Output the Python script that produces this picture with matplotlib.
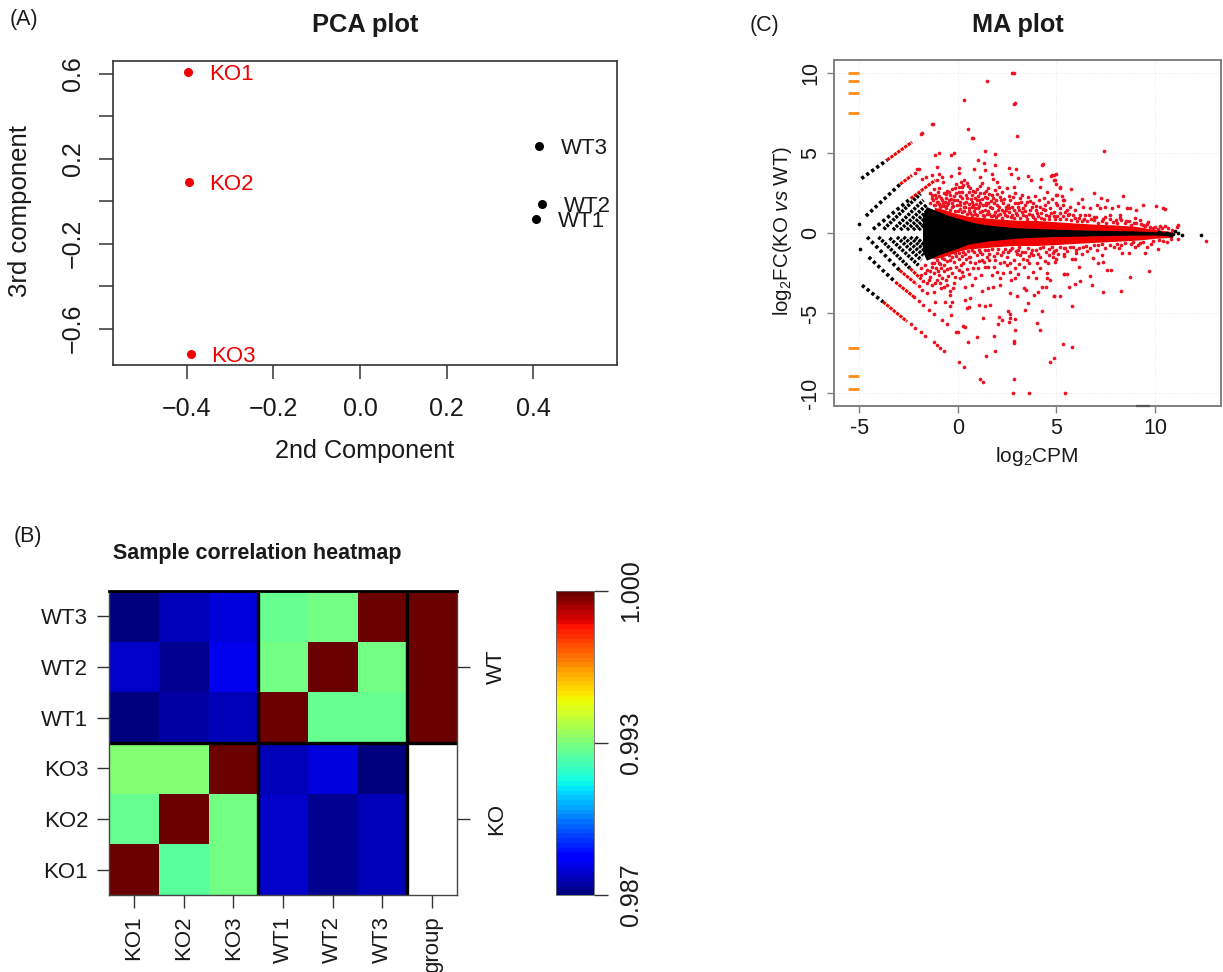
import numpy as np
import matplotlib
matplotlib.use('Agg')
import matplotlib.pyplot as plt
from matplotlib.colorbar import ColorbarBase
from matplotlib.colors import Normalize, ListedColormap

plt.rcParams['font.family'] = ['Liberation Sans', 'DejaVu Sans']
plt.rcParams['mathtext.fontset'] = 'custom'
plt.rcParams['mathtext.rm'] = 'Liberation Sans'
plt.rcParams['mathtext.it'] = 'Liberation Sans:italic'

W, H = 1223, 972
TEXT = '#1a1a1a'

# PCA plot
ko_names = ['KO1', 'KO2', 'KO3']
ko_x = [-0.396, -0.395, -0.391]
ko_y = [0.609, 0.093, -0.72]
wt_names = ['WT1', 'WT2', 'WT3']
wt_x = [0.406, 0.42, 0.414]
wt_y = [-0.082, -0.011, 0.258]
pca_xticks = [-0.4, -0.2, 0.0, 0.2, 0.4]
pca_yticks = [-0.6, -0.4, -0.2, 0.0, 0.2, 0.4, 0.6]
pca_ylabels = ['\u22120.6', '', '\u22120.2', '', '0.2', '', '0.6']

# correlation heatmap, top row first
hm_rows = ['WT3', 'WT2', 'WT1', 'KO3', 'KO2', 'KO1']
hm_cols = ['KO1', 'KO2', 'KO3', 'WT1', 'WT2', 'WT3', 'group']
hm_wt3 = [0.98713, 0.98778, 0.98804, 0.99311, 0.99337, 1.0, 1.0]
hm_wt2 = [0.98791, 0.98739, 0.9883, 0.99337, 1.0, 0.99337, 1.0]
hm_wt1 = [0.98713, 0.98752, 0.98778, 1.0, 0.99311, 0.99311, 1.0]
hm_ko3 = [0.9935, 0.9935, 1.0, 0.98778, 0.98817, 0.98713, np.nan]
hm_ko2 = [0.99311, 1.0, 0.99337, 0.98791, 0.98739, 0.98778, np.nan]
hm_ko1 = [1.0, 0.99298, 0.99337, 0.98791, 0.98739, 0.98765, np.nan]

# MA plot: low count arms, (x0, y0, x1, y1) black part then where the red part ends
arms_black = [
    (-4.9, 3.4, -3.6, 4.55), (-4.67, 1.06, -2.93, 3.05), (-4.31, 0.23, -2.4, 2.15),
    (-3.77, 0.23, -1.9, 2.45), (-3.3, 0.19, -1.75, 2.05), (-2.93, 0.19, -1.6, 1.75),
    (-2.59, 0.19, -1.55, 1.4), (-2.28, 0.19, -1.5, 1.1), (-2.0, 0.19, -1.5, 0.8),
    (-4.87, -3.26, -3.8, -4.3), (-4.53, -1.5, -3.18, -3.06), (-4.61, -0.25, -2.96, -2.33),
    (-4.03, -0.25, -2.42, -2.22), (-3.47, -0.31, -2.0, -2.02), (-3.09, -0.25, -1.85, -1.7),
    (-2.76, -0.25, -1.75, -1.4), (-2.42, -0.25, -1.7, -1.1), (-2.15, -0.25, -1.6, -0.85),
]
arms_red = [
    (-3.6, 4.55, -2.33, 5.68), (-2.93, 3.05, -2.33, 3.6), (-2.4, 2.15, -1.15, 3.3),
    (-3.8, -4.3, -2.58, -5.53), (-3.18, -3.06, -2.25, -3.97), (-2.96, -2.33, -2.1, -3.2),
    (-2.42, -2.22, -1.85, -2.9),
]
black_single_x = [-5.04, -4.95, 11.02, 11.19, 11.36, 12.34, 10.9, 10.6, 10.2, 10.75]
black_single_y = [0.56, -1.02, 0.14, -0.02, -0.12, -0.1, -0.05, 0.03, 0.05, -0.1]

# dashes for values off the left side
orange_y = [10, 9.48, 8.71, 7.5, -7.17, -8.94, -9.75]

# dense centre of the cloud, edges read at core_x / red_x
core_x = [-1.8, -1.6, -1.3, -1, -0.5, 0, 0.5, 1, 1.5, 2, 2.5, 3, 4, 5, 6, 7, 8, 9, 9.5, 10, 10.5, 10.9]
core_up = [1.1, 1.65, 1.5, 1.35, 1.1, 0.92, 0.74, 0.6, 0.5, 0.43, 0.38, 0.33, 0.28, 0.24, 0.2, 0.17, 0.15, 0.13, 0.1, 0.08, 0.07, 0.04]
core_low = [-1.15, -1.7, -1.55, -1.37, -1.15, -0.95, -0.7, -0.6, -0.5, -0.44, -0.38, -0.32, -0.26, -0.22, -0.2, -0.17, -0.15, -0.13, -0.13, -0.13, -0.15, -0.25]
red_x = [-1.2, -0.8, -0.3, 0, 0.5, 1, 1.5, 2, 2.5, 3, 4, 5, 6, 7, 8, 9, 9.5, 10, 10.5, 10.9]
red_up = [1.6, 1.5, 1.3, 1.2, 1.05, 1.0, 0.93, 0.88, 0.84, 0.8, 0.78, 0.7, 0.62, 0.55, 0.5, 0.42, 0.32, 0.22, 0.15, 0.08]
red_low = [-1.6, -1.5, -1.3, -1.15, -1, -0.95, -0.9, -0.85, -0.8, -0.78, -0.78, -0.72, -0.65, -0.58, -0.52, -0.45, -0.4, -0.33, -0.3, -0.27]

# single red points, upper half
red_top = [
    (2.74, 10), (2.85, 10), (1.45, 9.48), (0.29, 8.32), (2.82, 8.05), (2.9, 8.1), (0.51, 6.5),
    (0.71, 5.9), (0.75, 5.95), (2.99, 6.05), (7.42, 5.1), (-1.85, 6.2), (-1.8, 6.25), (-1.3, 6.8), (-1.25, 6.8),
    (-2.2, 3.75), (-2.08, 3.97), (-2.0, 4.0), (-1.82, 3.4), (-1.6, 3.5), (-1.3, 3.6), (-1.05, 3.3),
    (-1.15, 4.87), (-0.98, 5.0), (-0.35, 4.87), (-0.22, 4.97), (1.35, 5.1), (1.89, 4.93), (1.0, 4.55),
    (1.33, 4.35), (1.9, 4.25), (-1.07, 4.1), (0.07, 4.03), (0.83, 3.99), (1.38, 3.93), (2.57, 4.07),
    (2.97, 3.97), (4.3, 4.3), (4.25, 4.25), (-0.95, 3.66), (-0.35, 3.56), (0.03, 3.72), (1.1, 3.5), (1.72, 3.66),
    (2.69, 3.68), (3.07, 3.45), (3.53, 3.57), (3.72, 3.31), (4.2, 3.37), (4.72, 3.55), (4.89, 3.62),
    (4.94, 3.31), (5.17, 2.85), (0.3, 3.31), (0.46, 3.14), (0.2, 2.89), (-0.14, 2.79), (0.03, 2.58),
    (-0.81, 3.47), (-0.77, 3.16), (-0.98, 2.79), (-1.23, 2.73), (-1.4, 2.47), (-1.15, 2.37), (-0.73, 2.47),
    (-0.39, 2.37), (-0.22, 2.06), (-0.47, 2.06), (-0.81, 2.06), (-1.07, 1.95), (-1.32, 2.16), (-0.56, 1.75),
    (-0.9, 1.64), (-0.05, 1.75), (0.29, 1.85), (0.46, 2.16), (0.71, 2.37), (0.88, 2.58), (1.13, 2.93),
    (1.22, 3.1), (1.8, 3.4), (1.98, 3.2), (2.06, 2.89), (1.89, 2.68), (1.55, 2.79), (1.3, 2.47), (0.96, 2.06),
    (0.71, 1.95), (0.54, 1.54), (0.88, 1.54), (1.13, 1.85), (1.47, 2.16), (1.72, 2.37), (2.14, 2.27),
    (2.48, 2.79), (2.82, 2.89), (2.9, 2.47), (2.65, 2.06), (2.31, 1.85), (1.98, 1.75), (1.64, 1.64),
    (1.38, 1.43), (1.89, 1.33), (2.23, 1.43), (2.57, 1.54), (2.9, 1.85), (3.24, 2.37), (3.58, 2.27),
    (3.92, 2.31), (4.17, 2.85), (4.5, 2.58), (5.0, 2.37), (5.34, 2.06), (5.34, 1.75), (5.0, 1.85),
    (4.58, 1.96), (4.17, 1.64), (3.83, 1.85), (3.41, 1.75), (3.07, 1.64), (2.82, 1.43), (3.24, 1.33),
    (3.66, 1.43), (4.0, 1.22), (4.43, 1.43), (4.85, 1.33), (5.19, 1.22), (5.53, 1.43),
    (-0.95, 1.8), (-0.7, 1.7), (-0.3, 1.6), (0.1, 1.5), (0.3, 1.35), (0.6, 1.25), (0.85, 1.2), (1.1, 1.3),
    (1.25, 1.15), (1.6, 1.2), (1.75, 1.05), (2.05, 1.1), (2.4, 1.15), (2.7, 1.0), (3.0, 1.1), (3.45, 1.05),
    (3.8, 1.0), (4.2, 0.95), (4.6, 1.05), (4.95, 0.9), (-0.6, 2.45), (0.2, 2.2), (0.6, 2.8), (1.0, 2.3),
    (2.2, 2.05), (2.55, 1.75), (3.2, 1.95), (3.75, 1.6), (4.4, 1.75),
    (4.77, 3.62), (5.0, 3.68), (4.85, 3.3), (4.99, 3.06), (5.16, 2.83), (5.73, 2.76), (5.05, 2.37),
    (5.27, 2.3), (6.88, 2.52), (8.4, 2.33), (7.25, 2.2), (7.55, 2.06), (6.29, 2.1), (5.36, 2.06), (6.07, 1.9),
    (9.41, 1.75), (10.05, 1.7), (10.43, 1.54), (10.5, 1.48), (8.14, 1.7), (8.58, 1.58), (8.73, 1.58),
    (9.04, 1.43), (7.05, 1.75), (7.22, 1.54), (7.47, 1.64), (7.81, 1.54), (6.71, 1.54), (6.37, 1.64),
    (5.7, 1.64), (5.95, 1.43), (5.45, 1.33), (5.2, 1.54), (5.03, 1.75), (8.23, 1.12), (9.0, 0.91), (9.25, 0.81),
    (7.73, 1.12), (6.88, 1.02), (6.63, 1.12), (6.2, 1.12), (7.47, 1.02), (8.0, 0.81), (8.49, 0.6), (8.92, 0.6),
    (9.41, 0.5), (10.25, 0.44), (10.5, 0.44), (11.18, 0.5), (11.1, 0.35), (10.68, 0.29), (9.75, 0.39),
    (5.6, 1.1), (5.95, 0.95), (6.4, 0.9), (6.9, 0.8), (7.3, 0.75), (7.7, 0.85), (8.3, 0.8), (8.7, 0.75),
    (9.6, 0.55), (10.0, 0.35),
]

# crowded strip just above the red band
red_top_strip = [
    (-1.15, 1.75), (-1.0, 1.95), (-0.85, 1.7), (-0.75, 1.85), (-0.6, 1.55), (-0.5, 1.9), (-0.4, 1.45), (-0.25, 1.7),
    (-0.15, 1.4), (0.0, 1.35), (0.12, 1.75), (0.2, 1.3), (0.38, 1.6), (0.45, 1.2), (0.55, 1.4), (0.7, 1.15),
    (0.72, 1.65), (0.8, 1.35), (0.95, 1.1), (1.0, 1.55), (1.05, 1.7), (1.2, 1.4), (1.3, 1.05), (1.42, 1.75),
    (1.45, 1.2), (1.55, 1.4), (1.68, 1.05), (1.75, 1.55), (1.85, 1.15), (1.95, 1.0), (2.05, 1.45), (2.15, 1.2),
    (2.25, 0.95), (2.35, 1.3), (2.45, 1.65), (2.5, 1.05), (2.6, 1.3), (2.75, 1.15), (2.85, 0.95), (2.95, 1.25),
    (3.1, 1.45), (3.15, 0.95), (3.3, 1.15), (3.4, 1.35), (3.5, 0.9), (3.6, 1.2), (3.75, 1.15), (3.9, 0.9),
    (3.95, 1.45), (4.05, 1.05), (4.2, 1.25), (4.35, 0.9), (4.45, 1.15), (4.6, 0.85), (4.7, 1.25), (4.85, 1.05),
    (5.05, 1.05), (5.2, 0.85), (5.35, 1.05), (5.5, 0.85), (5.65, 1.2), (5.75, 0.8), (5.85, 1.15), (6.05, 0.75),
    (6.15, 0.95), (6.3, 0.75), (6.45, 1.15), (6.55, 0.75), (6.75, 0.85), (7.0, 1.0), (7.1, 0.65), (7.35, 0.9),
    (7.5, 0.65), (7.85, 0.7), (8.05, 0.6), (8.2, 0.95), (8.55, 0.75), (8.8, 0.5), (9.05, 0.65), (9.3, 0.55),
    (9.5, 0.42), (9.65, 0.7), (9.9, 0.3), (10.15, 0.25), (10.35, 0.3), (10.85, 0.2),
]

# the busy patch left of centre, upper half
red_top_patch = [
    (-1.4, 1.9), (-1.25, 2.05), (-1.2, 1.75), (-1.3, 2.4), (-1.1, 2.2), (-1.0, 2.55), (-0.95, 2.3), (-0.85, 2.2),
    (-0.65, 1.95), (-0.62, 2.2), (-0.55, 2.65), (-0.45, 2.55), (-0.35, 2.1), (-0.3, 1.9), (-0.28, 2.75), (-0.18, 2.3),
    (-0.12, 2.5), (-0.1, 3.05), (-0.05, 2.05), (0.05, 2.85), (0.08, 2.3), (0.12, 1.95), (0.15, 3.2), (0.22, 2.55),
    (0.28, 3.0), (0.32, 1.65), (0.4, 2.4), (0.42, 1.95), (0.5, 2.95), (0.55, 2.55), (0.58, 1.8), (0.65, 2.15),
    (0.75, 2.65), (0.78, 1.75), (0.85, 2.2), (0.92, 1.8), (0.98, 2.75), (1.05, 2.05), (1.1, 2.5), (1.2, 2.15),
    (1.25, 1.75), (1.35, 2.25), (1.4, 1.9), (1.42, 2.6), (1.52, 1.85), (1.6, 2.45), (1.68, 2.0), (1.8, 2.2),
    (1.82, 1.85), (1.95, 2.05), (2.0, 2.45), (2.1, 1.65), (2.25, 2.55), (2.35, 2.1), (2.45, 1.45), (2.6, 2.3),
    (2.75, 1.65), (2.78, 2.25), (3.05, 1.9), (3.15, 2.2), (3.3, 1.55), (3.5, 1.95), (3.65, 2.0), (3.95, 1.7),
    (4.1, 2.05), (4.3, 1.5), (4.35, 2.2), (4.65, 1.55), (4.75, 2.15),
]

# single red points, lower half
red_bottom = [
    (-1.23, -6.82), (-1.07, -6.99), (-0.9, -7.15), (-0.73, -7.34), (-1.66, -6.42), (-1.88, -6.16),
    (-2.17, -5.9), (-2.39, -5.67), (-2.25, -3.97), (-2.0, -4.25), (-1.77, -4.49), (-2.0, -3.3),
    (0.03, -8.07), (0.33, -8.38), (1.13, -9.13), (1.25, -9.3), (2.82, -9.11), (2.77, -10), (3.61, -10),
    (5.41, -10), (4.65, -8.03), (4.9, -7.82), (5.32, -6.92), (5.81, -7.09),
    (-0.08, -6.15), (-0.01, -6.2), (0.28, -5.78), (0.37, -5.84), (0.5, -6.78), (0.96, -6.47), (1.84, -6.43),
    (1.42, -7.67), (1.86, -7.34), (2.87, -6.74), (2.82, -6.88), (2.9, -6.03), (1.26, -5.32), (2.03, -5.68),
    (2.24, -5.43), (2.57, -5.58), (2.65, -5.32), (2.9, -5.36), (2.52, -4.87), (2.62, -5.07), (2.1, -5.26),
    (3.41, -4.8), (4.0, -5.63), (4.17, -6.05), (4.26, -4.87), (3.55, -4.39), (3.0, -3.93), (2.65, -3.77),
    (3.33, -3.45), (3.46, -3.55), (3.87, -3.87), (4.04, -3.66), (4.26, -3.4), (4.48, -3.4), (4.88, -3.93),
    (5.19, -3.91), (4.68, -2.93), (5.36, -2.56), (5.53, -2.58), (5.66, -3.35), (3.97, -2.83), (3.58, -2.73),
    (3.07, -2.56), (2.7, -2.93), (2.9, -2.83), (2.14, -3.25), (1.8, -3.35), (1.55, -3.45), (1.22, -3.62),
    (0.6, -4.07), (0.37, -4.18), (0.54, -4.6), (0.46, -4.7), (1.05, -4.5), (1.38, -4.55), (1.64, -4.5),
    (-1.15, -4.28), (-0.65, -4.28), (-0.39, -4.56), (-1.45, -4.8), (-1.2, -5.07), (-0.8, -5.43), (-0.55, -5.7),
    (-0.36, -5.13), (-0.3, -4.28), (-0.39, -3.87), (-0.39, -3.62), (-0.73, -3.35), (-0.87, -3.45),
    (-1.19, -3.7), (-1.58, -3.76), (-1.82, -3.55), (0.37, -3.35), (0.71, -3.24), (0.12, -2.83), (-0.14, -2.73),
    (-1.07, -2.93), (-0.81, -2.83), (-1.4, -2.73), (-1.66, -2.52), (-1.9, -2.62), (-1.23, -2.52), (-0.73, -2.37),
    (-0.39, -2.2), (0.03, -2.3), (0.28, -2.7), (0.88, -2.83), (1.17, -2.62), (1.38, -2.1), (1.72, -2.62),
    (2.14, -2.83), (2.31, -2.52), (1.98, -2.41), (2.65, -2.41), (2.9, -2.2), (3.33, -2.1), (3.83, -2.41),
    (4.17, -2.2), (4.5, -2.52), (4.5, -2.83), (-1.9, -2.2), (-1.66, -2.0), (-1.32, -2.1), (-0.98, -1.9),
    (-0.73, -2.0), (-0.22, -1.8), (0.03, -1.6), (0.28, -1.9), (0.62, -1.5), (0.88, -1.9), (1.22, -1.7),
    (1.55, -2.1), (1.89, -1.7), (2.14, -1.9), (2.48, -1.5), (2.82, -1.7), (3.16, -1.4), (3.5, -1.7), (3.83, -1.4),
    (4.17, -1.5), (4.6, -1.4), (5.0, -1.6), (5.36, -1.3), (-0.81, -1.58), (-0.47, -1.37), (-1.23, -1.48),
    (-1.58, -1.37), (-0.14, -1.27), (0.28, -1.16), (0.7, -1.06), (1.13, -1.16), (1.55, -1.06), (1.98, -1.27),
    (2.31, -1.16), (2.65, -1.06), (3.07, -1.06), (3.4, -1.16), (3.75, -1.06), (4.17, -0.96), (4.6, -1.0),
    (5.0, -1.06), (5.4, -0.96), (-1.0, -2.4), (-0.5, -2.7), (0.45, -2.25), (0.6, -1.8), (1.0, -2.2), (1.45, -1.5),
    (2.5, -2.0), (3.0, -1.3), (3.6, -1.9), (4.4, -1.75), (4.8, -1.25), (-0.2, -3.1),
    (9.7, -2.37), (8.73, -2.73), (8.3, -3.6), (7.35, -3.7), (6.79, -3.24), (6.7, -2.68), (7.55, -2.3),
    (7.75, -2.3), (6.2, -2.99), (5.95, -3.2), (5.81, -4.53), (5.36, -2.56), (4.88, -3.93), (11.19, -0.38),
    (10.17, -1.0), (9.8, -0.7), (9.5, -1.23), (8.7, -1.23), (8.33, -1.27), (12.58, -0.48), (7.38, -1.8),
    (7.1, -1.9), (6.15, -2.1), (6.85, -1.58), (7.3, -1.37), (6.29, -1.33), (6.0, -1.27), (5.78, -1.6),
    (5.95, -1.6), (5.36, -1.45), (5.1, -1.3), (4.8, -1.5), (4.93, -1.8), (6.71, -0.95), (7.47, -0.95),
    (7.9, -0.85), (8.3, -0.75), (5.45, -0.95), (6.12, -0.95), (9.25, -0.65), (5.7, -0.85), (6.5, -0.8),
    (7.1, -0.75), (8.8, -0.7), (9.0, -0.85), (10.4, -0.5), (10.8, -0.4),
]

# crowded strip just below the red band
red_bottom_strip = [
    (-1.2, -1.85), (-1.05, -1.7), (-0.9, -1.95), (-0.7, -1.65), (-0.55, -1.75), (-0.3, -1.5), (-0.1, -1.45), (0.05, -1.25),
    (0.2, -1.45), (0.35, -1.3), (0.5, -1.15), (0.55, -1.5), (0.8, -1.2), (0.95, -1.4), (1.05, -1.05), (1.2, -1.3),
    (1.35, -1.05), (1.6, -1.3), (1.75, -1.0), (1.85, -1.45), (2.05, -1.0), (2.2, -1.35), (2.4, -1.0), (2.55, -1.2),
    (2.75, -0.95), (2.95, -1.15), (3.1, -0.9), (3.25, -1.2), (3.55, -0.95), (3.7, -1.25), (3.95, -1.05), (4.05, -1.3),
    (4.3, -0.9), (4.45, -1.2), (4.75, -0.9), (4.9, -1.15), (5.2, -0.85), (5.55, -1.15), (5.85, -0.85), (6.0, -1.05),
    (6.35, -0.85), (6.55, -1.1), (6.9, -0.75), (7.05, -1.05), (7.3, -0.7), (7.7, -0.75), (8.05, -0.7), (8.15, -0.95),
    (8.5, -0.65), (8.9, -0.55), (9.15, -0.75), (9.4, -0.55), (9.6, -0.85), (9.9, -0.5), (10.2, -0.45), (10.6, -0.55),
]

# the busy patch left of centre, lower half
red_bottom_patch = [
    (-1.75, -3.0), (-1.55, -3.15), (-1.45, -2.95), (-1.3, -3.25), (-1.15, -3.1), (-1.55, -2.3), (-1.4, -2.35), (-1.1, -2.2),
    (-0.95, -2.6), (-0.9, -3.1), (-0.6, -2.95), (-0.55, -2.25), (-0.55, -3.25), (-0.3, -2.5), (-0.25, -3.45), (-0.1, -2.1),
    (-1.3, -1.85), (-0.85, -2.2), (-0.4, -1.7), (0.15, -2.0), (0.2, -2.45), (0.4, -1.6), (0.55, -2.55), (0.75, -2.2),
    (1.05, -1.75), (1.3, -1.8), (1.6, -1.7), (1.85, -2.15), (2.35, -1.8), (2.65, -1.85), (3.1, -1.95), (3.3, -1.6),
    (3.6, -1.45), (4.0, -1.85), (4.55, -1.85),
]


def px_axes(left, top, right, bottom):
    # axes placed by its pixel box in the final picture
    return fig.add_axes([left / W, 1 - bottom / H, (right - left) / W, (bottom - top) / H])


fig = plt.figure(figsize=(W / 100, H / 100), dpi=100)

# (A) PCA plot
ax = px_axes(113, 60.5, 617, 365)
ax.scatter(ko_x, ko_y, s=30, color='#f00000', zorder=3)
ax.scatter(wt_x, wt_y, s=30, color='k', zorder=3)
for name, x, y in zip(ko_names, ko_x, ko_y):
    ax.text(x + 0.047, y, name, color='#f00000', fontsize=16, va='center_baseline')
for name, x, y in zip(wt_names, wt_x, wt_y):
    ax.text(x + 0.05, y, name, color=TEXT, fontsize=16, va='center_baseline')
ax.set_xlim(-0.57, 0.593)
ax.set_ylim(-0.771, 0.663)
ax.set_xticks(pca_xticks)
ax.set_xticklabels(['\u22120.4', '\u22120.2', '0.0', '0.2', '0.4'], fontsize=18, color=TEXT)
ax.set_yticks(pca_yticks)
ax.set_yticklabels(pca_ylabels, fontsize=18, color=TEXT, rotation=90, va='center')
ax.tick_params(length=10, width=1.1, color='#333333')
ax.tick_params(axis='x', pad=13)
ax.tick_params(axis='y', pad=10)
for s in ax.spines.values():
    s.set_linewidth(1.2)
    s.set_color('#333333')
fig.text(365 / W, 1 - 25 / H, 'PCA plot', fontsize=18.4, fontweight='bold', ha='center', va='center', color=TEXT)
fig.text(365 / W, 1 - 451 / H, '2nd Component', fontsize=18.2, ha='center', va='center', color=TEXT)
fig.text(20 / W, 1 - 211 / H, '3rd component', fontsize=18.5, rotation=90, ha='center', va='center', color=TEXT)
fig.text(10 / W, 1 - 20 / H, '(A)', fontsize=15.5, va='center', color=TEXT)

# (B) heatmap
ax = px_axes(109, 591, 457, 895)
hm = np.array([hm_wt3, hm_wt2, hm_wt1, hm_ko3, hm_ko2, hm_ko1])
norm = Normalize(0.987, 1.0)
# jet, with a darker red at the top end
jet_colors = plt.get_cmap('jet')(np.linspace(0, 1, 64))
jet_colors[-7:, 0] = np.linspace(0.9, 0.42, 7)
cmap = ListedColormap(jet_colors)
ax.imshow(hm, cmap=cmap, norm=norm, aspect='auto', interpolation='nearest')
ax.axvline(2.5, color='k', lw=2.4)
ax.axvline(5.5, color='k', lw=2.4)
ax.axhline(2.5, color='k', lw=2.4)
ax.set_xticks(range(len(hm_cols)))
ax.set_xticklabels(hm_cols, rotation=90, fontsize=16, color=TEXT, va='top')
ax.set_yticks(range(len(hm_rows)))
ax.set_yticklabels(hm_rows, fontsize=16, color=TEXT)
ax.tick_params(length=9, width=1.0, color='#333333', pad=6)
for s in ax.spines.values():
    s.set_linewidth(1.0)
    s.set_color('#444444')
ax.spines['top'].set_linewidth(2.0)
ax.spines['top'].set_color('k')
ax2 = ax.twinx()
ax2.set_ylim(ax.get_ylim())
ax2.set_yticks([1, 4])
ax2.set_yticklabels(['WT', 'KO'], rotation=90, va='center', fontsize=16, color=TEXT)
ax2.tick_params(length=9, width=1.0, color='#333333', pad=12)
for s in ax2.spines.values():
    s.set_visible(False)
fig.text(257 / W, 1 - 554 / H, 'Sample correlation heatmap', fontsize=15.5, fontweight='bold', ha='center', va='center', color=TEXT)
fig.text(14 / W, 1 - 536 / H, '(B)', fontsize=15.5, va='center', color=TEXT)

cax = px_axes(556, 591, 594, 895)
cb = ColorbarBase(cax, cmap=cmap, norm=norm, orientation='vertical')
cb.set_ticks([0.987, 0.9935, 1.0])
cb.set_ticklabels(['0.987', '0.993', '1.000'])
cb.ax.tick_params(length=10, width=1.0, color='#333333', pad=8)
plt.setp(cb.ax.get_yticklabels(), rotation=90, va='center', fontsize=18, color=TEXT)
cb.outline.set_linewidth(0.6)
cb.outline.set_edgecolor('#666666')

# (C) MA plot
ax = px_axes(834, 60, 1221, 406)
GREY = '#808080'
ax.set_xlim(-6.29, 13.35)
ax.set_ylim(-10.8, 10.8)
ax.set_xticks([-5, 0, 5, 10])
ax.set_xticklabels(['-5', '0', '5', '10'], fontsize=15.5, color=TEXT)
ax.set_yticks([-10, -5, 0, 5, 10])
ax.set_yticklabels(['-10', '-5', '0', '5', '10'], fontsize=15.5, color=TEXT, rotation=90, va='center')
ax.tick_params(length=5, width=1.0, color=GREY, pad=4)
ax.grid(True, color='#e6e6e6', lw=0.6, ls=':')
ax.set_axisbelow(True)
for s in ax.spines.values():
    s.set_linewidth(1.4)
    s.set_color(GREY)

# red first, the black centre sits on top
ax.fill_between(red_x, red_up, red_low, color='#f00000', lw=0, zorder=2)
pts = np.array(red_top + red_top_strip + red_top_patch + red_bottom + red_bottom_strip + red_bottom_patch)
ax.scatter(pts[:, 0], pts[:, 1], s=7, color='#ee1122', lw=0, zorder=2)
for x0, y0, x1, y1 in arms_red:
    ax.plot([x0, x1], [y0, y1], color='#f00000', lw=2.2, ls=(0, (1.1, 0.3)), zorder=3)
for i, (x0, y0, x1, y1) in enumerate(arms_black):
    # the outer arms have wider gaps between the counts
    dash = (0.9, 0.8) if i in (0, 1, 2, 9, 10, 11) else (0.8, 0.35)
    ax.plot([x0, x1], [y0, y1], color='k', lw=2.6, ls=(0, dash), zorder=3)
ax.fill_between(core_x, core_up, core_low, color='k', lw=0, zorder=4)
ax.scatter(black_single_x, black_single_y, s=7, color='k', lw=0, zorder=4)
ax.hlines(orange_y, -5.6, -5.02, color='#ff8c1a', lw=2.0, zorder=3)
ax.plot([9.1, 9.7], [-10.8, -10.8], color='#555555', lw=1.6, zorder=5, clip_on=False)
fig.text(1018 / W, 1 - 25 / H, 'MA plot', fontsize=18.2, fontweight='bold', ha='center', va='center', color=TEXT)
fig.text(1037 / W, 1 - 456 / H, r'$\mathrm{log_2CPM}$', fontsize=15, ha='center', va='center', color=TEXT)
fig.text(782 / W, 1 - 231 / H, r'$\mathrm{log_2FC(KO}$ $\mathit{vs}$ $\mathrm{WT)}$', fontsize=14.7, rotation=90, ha='center', va='center', color=TEXT)
fig.text(750 / W, 1 - 25 / H, '(C)', fontsize=15.5, va='center', color=TEXT)

fig.savefig('out.png', dpi=100)
